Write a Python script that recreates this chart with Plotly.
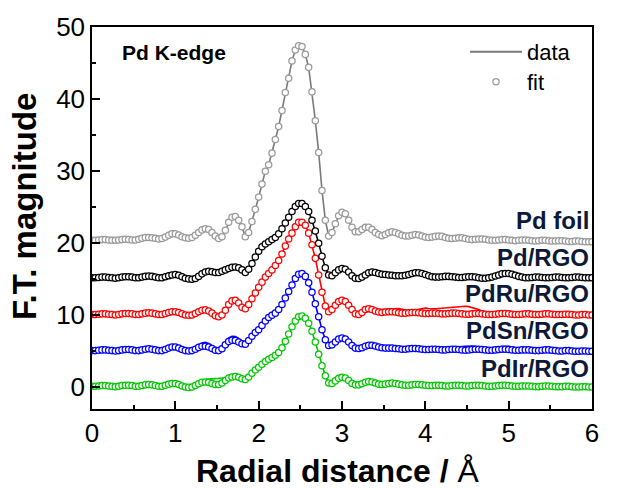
import numpy as np
import plotly.graph_objects as go

# Radial distance grid (Angstrom), 0.04 step
R = [round(i * 0.04, 2) for i in range(151)]

foil_fit = [
    20.4, 20.4, 20.45, 20.5, 20.5, 20.45, 20.4, 20.4, 20.45, 20.5,
    20.55, 20.5, 20.45, 20.45, 20.55, 20.7, 20.8, 20.8, 20.75, 20.7,
    20.6, 20.65, 20.85, 21.1, 21.3, 21.3, 21.15, 20.9, 20.75, 20.7,
    20.8, 21.1, 21.5, 21.85, 22.0, 21.9, 21.5, 21.0, 20.65, 20.9,
    21.8, 22.9, 23.6, 23.7, 23.2, 22.3, 20.9, 21.5, 23.0, 24.7,
    26.4, 28.2, 30.0, 30.9, 32.5, 34.4, 36.2, 38.4, 40.9, 42.9,
    45.3, 46.8, 47.4, 47.3, 46.2, 44.4, 41.0, 37.0, 32.6, 27.3,
    23.2, 21.0, 21.5, 22.7, 23.8, 24.3, 24.1, 23.2, 22.2, 21.6,
    21.6, 21.9, 22.2, 22.2, 21.9, 21.5, 21.2, 21.05, 21.2, 21.45,
    21.6, 21.5, 21.3, 21.1, 21.0, 21.0, 21.1, 21.2, 21.15, 21.0,
    20.85, 20.8, 20.85, 20.95, 21.0, 20.95, 20.8, 20.7, 20.65, 20.7,
    20.75, 20.75, 20.65, 20.55, 20.5, 20.55, 20.6, 20.6, 20.55, 20.45,
    20.4, 20.4, 20.45, 20.5, 20.5, 20.45, 20.4, 20.35, 20.4, 20.45,
    20.45, 20.4, 20.35, 20.3, 20.35, 20.4, 20.4, 20.35, 20.3, 20.3,
    20.35, 20.35, 20.3, 20.25, 20.25, 20.3, 20.3, 20.25, 20.2, 20.2,
    20.2,
]
foil_data = foil_fit

pdrgo_fit = [
    15.2, 15.2, 15.25, 15.3, 15.3, 15.25, 15.2, 15.15, 15.2, 15.3,
    15.35, 15.35, 15.3, 15.2, 15.2, 15.3, 15.4, 15.45, 15.4, 15.3,
    15.2, 15.2, 15.35, 15.5, 15.6, 15.65, 15.55, 15.35, 15.15, 15.05,
    15.0, 15.1, 15.4, 15.75, 16.0, 16.1, 16.05, 15.95, 15.95, 16.1,
    16.3, 16.5, 16.65, 16.7, 16.6, 16.3, 15.95, 16.4, 17.2, 18.1,
    18.9, 19.5, 19.9, 20.2, 20.5, 20.8, 21.3, 22.0, 22.8, 23.6,
    24.4, 25.1, 25.5, 25.5, 25.1, 24.4, 23.2, 21.7, 20.0, 18.2,
    16.6, 15.6, 15.5, 15.9, 16.3, 16.5, 16.4, 16.0, 15.5, 15.15,
    15.1, 15.3, 15.6, 15.9, 16.0, 15.95, 15.8, 15.7, 15.65, 15.6,
    15.55, 15.5, 15.5, 15.5, 15.55, 15.65, 15.8, 15.9, 15.9, 15.8,
    15.65, 15.5, 15.35, 15.3, 15.3, 15.35, 15.4, 15.4, 15.35, 15.3,
    15.25, 15.25, 15.3, 15.35, 15.35, 15.3, 15.2, 15.15, 15.15, 15.2,
    15.3, 15.45, 15.6, 15.75, 15.8, 15.8, 15.7, 15.55, 15.4, 15.3,
    15.2, 15.2, 15.25, 15.3, 15.3, 15.25, 15.2, 15.2, 15.25, 15.3,
    15.3, 15.25, 15.2, 15.2, 15.25, 15.3, 15.3, 15.25, 15.2, 15.2,
    15.2,
]
pdrgo_data = pdrgo_fit

pdru_fit = [
    10.1, 10.1, 10.15, 10.2, 10.2, 10.15, 10.1, 10.05, 10.1, 10.2,
    10.25, 10.25, 10.2, 10.1, 10.1, 10.2, 10.3, 10.35, 10.3, 10.2,
    10.1, 10.1, 10.25, 10.4, 10.5, 10.5, 10.4, 10.2, 10.05, 10.0,
    10.05, 10.25, 10.5, 10.7, 10.75, 10.6, 10.3, 9.95, 9.8, 10.05,
    10.7, 11.5, 12.0, 12.1, 11.7, 11.1, 10.9, 11.5, 12.3, 13.1,
    13.9, 14.6, 15.3, 15.8, 16.3, 16.9, 17.6, 18.5, 19.6, 20.6,
    21.4, 22.3, 22.9, 22.9, 22.5, 21.4, 19.8, 17.9, 15.6, 13.2,
    11.3, 10.5, 10.8, 11.4, 11.9, 12.1, 11.9, 11.4, 10.8, 10.2,
    10.1, 10.4, 10.8, 10.9, 10.8, 10.6, 10.45, 10.4, 10.45, 10.5,
    10.5, 10.45, 10.35, 10.3, 10.3, 10.35, 10.4, 10.4, 10.35, 10.3,
    10.25, 10.25, 10.3, 10.3, 10.25, 10.2, 10.2, 10.25, 10.3, 10.3,
    10.25, 10.2, 10.15, 10.15, 10.2, 10.25, 10.25, 10.2, 10.15, 10.1,
    10.1, 10.15, 10.2, 10.25, 10.25, 10.2, 10.15, 10.1, 10.1, 10.15,
    10.2, 10.2, 10.15, 10.1, 10.1, 10.15, 10.2, 10.2, 10.15, 10.1,
    10.1, 10.1, 10.15, 10.15, 10.1, 10.05, 10.05, 10.1, 10.1, 10.05,
    10.05,
]
pdru_data = [
    10.1, 10.1, 10.15, 10.2, 10.2, 10.15, 10.1, 10.05, 10.1, 10.2,
    10.25, 10.25, 10.2, 10.1, 10.1, 10.2, 10.3, 10.35, 10.3, 10.2,
    10.1, 10.1, 10.25, 10.4, 10.5, 10.5, 10.4, 10.2, 10.05, 10.0,
    10.05, 10.25, 10.5, 10.7, 10.75, 10.6, 10.3, 9.95, 9.8, 10.05,
    10.75, 11.6, 12.15, 12.25, 11.85, 11.2, 10.9, 11.5, 12.3, 13.1,
    13.9, 14.6, 15.3, 15.8, 16.3, 16.9, 17.6, 18.5, 19.6, 20.6,
    21.4, 22.3, 22.9, 22.9, 22.5, 21.4, 19.8, 17.9, 15.6, 13.2,
    11.3, 10.5, 10.8, 11.4, 11.9, 12.1, 11.9, 11.4, 10.8, 10.2,
    10.1, 10.4, 10.8, 10.95, 10.9, 10.8, 10.75, 10.8, 10.85, 10.9,
    10.95, 11.0, 10.95, 10.85, 10.7, 10.65, 10.65, 10.75, 10.85, 10.95,
    11.0, 10.95, 10.9, 10.9, 10.95, 11.0, 11.05, 11.1, 11.1, 11.15,
    11.2, 11.25, 11.25, 11.2, 11.1, 10.95, 10.8, 10.6, 10.45, 10.4,
    10.4, 10.45, 10.5, 10.6, 10.65, 10.6, 10.5, 10.4, 10.3, 10.25,
    10.25, 10.3, 10.3, 10.25, 10.2, 10.2, 10.25, 10.25, 10.2, 10.15,
    10.1, 10.1, 10.15, 10.15, 10.1, 10.05, 10.05, 10.1, 10.1, 10.05,
    10.05,
]

pdsn_fit = [
    5.1, 5.1, 5.15, 5.2, 5.2, 5.15, 5.1, 5.05, 5.1, 5.2,
    5.25, 5.25, 5.2, 5.1, 5.1, 5.2, 5.3, 5.35, 5.3, 5.2,
    5.1, 5.1, 5.25, 5.45, 5.6, 5.6, 5.45, 5.25, 5.1, 5.05,
    5.1, 5.3, 5.55, 5.7, 5.7, 5.6, 5.4, 5.15, 5.1, 5.35,
    5.9, 6.35, 6.55, 6.5, 6.3, 6.05, 6.0, 6.5, 7.1, 7.6,
    8.0, 8.6, 9.2, 9.7, 10.0, 10.3, 10.8, 11.5, 12.4, 13.3,
    14.2, 15.1, 15.7, 15.8, 15.4, 14.5, 13.2, 11.6, 9.8, 8.0,
    6.6, 5.8, 5.9, 6.3, 6.7, 6.85, 6.7, 6.3, 5.8, 5.45,
    5.4, 5.5, 5.7, 5.85, 5.85, 5.75, 5.6, 5.5, 5.45, 5.45,
    5.45, 5.4, 5.35, 5.3, 5.3, 5.35, 5.4, 5.4, 5.35, 5.3,
    5.25, 5.25, 5.3, 5.3, 5.25, 5.2, 5.2, 5.25, 5.3, 5.3,
    5.25, 5.2, 5.15, 5.2, 5.25, 5.3, 5.3, 5.25, 5.2, 5.15,
    5.15, 5.2, 5.25, 5.3, 5.3, 5.25, 5.2, 5.15, 5.15, 5.2,
    5.2, 5.2, 5.15, 5.1, 5.1, 5.15, 5.2, 5.2, 5.15, 5.1,
    5.05, 5.05, 5.1, 5.1, 5.05, 5.0, 5.0, 5.05, 5.05, 5.0,
    5.0,
]
pdsn_data = [
    5.1, 5.1, 5.15, 5.2, 5.2, 5.15, 5.1, 5.05, 5.1, 5.2,
    5.25, 5.25, 5.2, 5.1, 5.1, 5.2, 5.3, 5.35, 5.3, 5.2,
    5.1, 5.1, 5.25, 5.45, 5.6, 5.6, 5.45, 5.25, 5.1, 5.05,
    5.15, 5.45, 5.85, 6.15, 6.25, 6.1, 5.8, 5.5, 5.45, 5.8,
    6.35, 6.85, 7.1, 7.05, 6.8, 6.35, 6.05, 6.5, 7.1, 7.6,
    8.0, 8.6, 9.2, 9.75, 10.1, 10.45, 10.9, 11.5, 12.4, 13.3,
    14.2, 15.1, 15.7, 15.8, 15.4, 14.5, 13.2, 11.6, 9.8, 8.0,
    6.6, 5.8, 5.9, 6.3, 6.7, 6.85, 6.7, 6.3, 5.8, 5.45,
    5.4, 5.5, 5.7, 5.85, 5.85, 5.75, 5.6, 5.5, 5.45, 5.45,
    5.5, 5.5, 5.45, 5.4, 5.4, 5.45, 5.5, 5.5, 5.45, 5.4,
    5.35, 5.35, 5.4, 5.4, 5.35, 5.3, 5.3, 5.35, 5.45, 5.55,
    5.6, 5.65, 5.7, 5.75, 5.75, 5.7, 5.55, 5.4, 5.3, 5.3,
    5.35, 5.45, 5.55, 5.65, 5.7, 5.7, 5.6, 5.45, 5.3, 5.25,
    5.2, 5.2, 5.15, 5.1, 5.1, 5.15, 5.2, 5.2, 5.15, 5.1,
    5.05, 5.05, 5.1, 5.1, 5.05, 5.0, 5.0, 5.05, 5.05, 5.0,
    5.0,
]

pdir_fit = [
    0.15, 0.15, 0.2, 0.25, 0.25, 0.2, 0.15, 0.1, 0.15, 0.25,
    0.3, 0.3, 0.25, 0.15, 0.15, 0.25, 0.35, 0.4, 0.35, 0.25,
    0.15, 0.15, 0.3, 0.45, 0.55, 0.55, 0.4, 0.2, 0.05, 0.0,
    0.05, 0.25, 0.5, 0.7, 0.75, 0.7, 0.55, 0.4, 0.4, 0.6,
    0.95, 1.3, 1.45, 1.5, 1.4, 1.2, 1.1, 1.45, 1.95, 2.4,
    2.8, 3.2, 3.6, 3.9, 4.15, 4.45, 4.85, 5.5, 6.4, 7.4,
    8.4, 9.2, 9.8, 9.9, 9.6, 8.9, 7.8, 6.3, 4.6, 3.0,
    1.6, 0.6, 0.55, 0.9, 1.25, 1.4, 1.3, 0.95, 0.55, 0.35,
    0.35, 0.5, 0.7, 0.8, 0.75, 0.6, 0.45, 0.4, 0.45, 0.55,
    0.6, 0.55, 0.45, 0.35, 0.3, 0.3, 0.35, 0.4, 0.4, 0.35,
    0.3, 0.25, 0.25, 0.3, 0.3, 0.25, 0.2, 0.2, 0.25, 0.3,
    0.3, 0.25, 0.2, 0.2, 0.25, 0.3, 0.3, 0.25, 0.2, 0.15,
    0.15, 0.2, 0.25, 0.3, 0.3, 0.25, 0.2, 0.15, 0.15, 0.2,
    0.2, 0.2, 0.15, 0.1, 0.1, 0.15, 0.2, 0.2, 0.15, 0.1,
    0.1, 0.1, 0.15, 0.15, 0.1, 0.05, 0.05, 0.1, 0.1, 0.05,
    0.05,
]
pdir_data = [
    0.15, 0.15, 0.2, 0.25, 0.25, 0.2, 0.15, 0.1, 0.15, 0.25,
    0.3, 0.3, 0.25, 0.15, 0.15, 0.25, 0.35, 0.4, 0.35, 0.25,
    0.15, 0.15, 0.3, 0.45, 0.55, 0.55, 0.4, 0.2, 0.05, 0.0,
    0.1, 0.35, 0.7, 0.95, 1.1, 1.15, 1.15, 1.2, 1.25, 1.3,
    1.4, 1.5, 1.55, 1.55, 1.45, 1.25, 1.1, 1.45, 1.95, 2.4,
    2.8, 3.2, 3.6, 3.9, 4.15, 4.45, 4.85, 5.5, 6.4, 7.4,
    8.4, 9.2, 9.8, 9.9, 9.6, 8.9, 7.8, 6.3, 4.6, 3.0,
    1.6, 0.6, 0.55, 0.9, 1.25, 1.4, 1.3, 0.95, 0.55, 0.35,
    0.35, 0.5, 0.7, 0.8, 0.75, 0.6, 0.45, 0.4, 0.45, 0.55,
    0.6, 0.55, 0.45, 0.35, 0.3, 0.3, 0.35, 0.4, 0.4, 0.35,
    0.3, 0.25, 0.25, 0.3, 0.3, 0.25, 0.2, 0.2, 0.25, 0.3,
    0.4, 0.45, 0.5, 0.55, 0.55, 0.5, 0.4, 0.3, 0.2, 0.15,
    0.15, 0.2, 0.3, 0.4, 0.45, 0.4, 0.3, 0.2, 0.15, 0.2,
    0.2, 0.2, 0.15, 0.1, 0.1, 0.15, 0.2, 0.2, 0.15, 0.1,
    0.1, 0.1, 0.15, 0.15, 0.1, 0.05, 0.05, 0.1, 0.1, 0.05,
    0.05,
]

labels = ["Pd foil", "Pd/RGO", "PdRu/RGO", "PdSn/RGO", "PdIr/RGO"]
label_y = [23.2, 18.05, 13.05, 7.9, 2.65]

series = [
    (foil_data, foil_fit, "#7a7a7a", "#9a9a9a"),
    (pdrgo_data, pdrgo_fit, "#000000", "#000000"),
    (pdru_data, pdru_fit, "#ff0000", "#ff0000"),
    (pdsn_data, pdsn_fit, "#0000ff", "#0000ff"),
    (pdir_data, pdir_fit, "#00c800", "#00c800"),
]

FONT = "Liberation Sans, Arial, sans-serif"

fig = go.Figure()
for data, fit, lc, mc in series[::-1]:
    fig.add_trace(go.Scatter(x=R, y=data, mode="lines",
                             line=dict(color=lc, width=1.6),
                             showlegend=False, hoverinfo="skip"))
    fig.add_trace(go.Scatter(x=R, y=fit, mode="markers",
                             marker=dict(symbol="circle", size=6.3, color="white",
                                         line=dict(color=mc, width=1.25)),
                             showlegend=False, hoverinfo="skip"))

# legend entries (two separate legends for tight spacing)
fig.add_trace(go.Scatter(x=[None], y=[None], mode="lines", name="data",
                         legend="legend",
                         line=dict(color="#7a7a7a", width=2)))
fig.add_trace(go.Scatter(x=[None], y=[None], mode="markers", name="fit",
                         legend="legend2",
                         marker=dict(symbol="circle", size=6.3, color="white",
                                     line=dict(color="#9a9a9a", width=1.25))))

for lab, ly in zip(labels, label_y):
    fig.add_annotation(x=6, y=ly, xref="x", yref="y", text="<b>%s</b>" % lab,
                       showarrow=False, xanchor="right", yanchor="middle",
                       xshift=-1,
                       font=dict(family=FONT, size=24, color="#0c1a38"))

fig.add_annotation(x=0.336, y=46.5, xref="x", yref="y", text="<b>Pd K-edge</b>",
                   showarrow=False, xanchor="left", yanchor="middle",
                   font=dict(family=FONT, size=21, color="black"))

# axis titles
fig.add_annotation(x=0.491, y=-0.163, xref="paper", yref="paper",
                   text="<b>Radial distance / </b>Å", showarrow=False,
                   xanchor="center", yanchor="middle",
                   font=dict(family=FONT, size=32, color="black"))
fig.add_annotation(x=-0.134, y=0.529, xref="paper", yref="paper",
                   text="<b>F.T. magnitude</b>", showarrow=False, textangle=-90,
                   xanchor="center", yanchor="middle",
                   font=dict(family=FONT, size=33, color="black"))

axis_common = dict(showline=True, linecolor="black", linewidth=1.5, mirror=True,
                   ticks="inside", tickcolor="black", tickwidth=1.5, ticklen=8,
                   showgrid=False, zeroline=False, automargin=False,
                   tickfont=dict(family=FONT, size=26, color="black"))

legend_common = dict(xanchor="left", yanchor="middle",
                     bgcolor="rgba(0,0,0,0)", borderwidth=0, itemwidth=52,
                     font=dict(family=FONT, size=22, color="black"))

fig.update_layout(
    width=625, height=488,
    margin=dict(l=92, r=33, t=27, b=79),
    paper_bgcolor="white", plot_bgcolor="white",
    xaxis=dict(range=[0, 6], dtick=1, tick0=0,
               minor=dict(dtick=0.5, ticks="inside", ticklen=4, tickwidth=1.5, tickcolor="black"),
               **axis_common),
    yaxis=dict(range=[-3, 50], dtick=10, tick0=0,
               minor=dict(dtick=5, ticks="inside", ticklen=4, tickwidth=1.5, tickcolor="black"),
               **axis_common),
    legend=dict(x=0.746, y=0.9346, **legend_common),
    legend2=dict(x=0.746, y=0.856, **legend_common),
)

fig.write_html("out.html")
